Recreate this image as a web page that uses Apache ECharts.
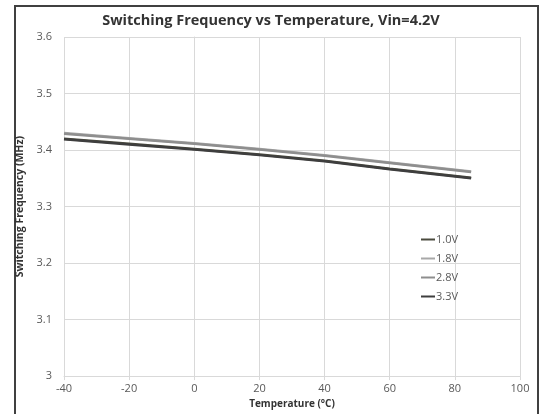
<!DOCTYPE html>
<html><head><meta charset="utf-8">
<script src="https://cdn.jsdelivr.net/npm/echarts@6/dist/echarts.min.js"></script>
<style>html,body{margin:0;padding:0;background:#fff}#c{width:542px;height:414px}</style>
</head><body><div id="c"></div>
<script>
const temps = [-40, -20, 0, 20, 40, 60, 85];
const v10 = [3.420, 3.411, 3.402, 3.392, 3.381, 3.367, 3.351];
const v18 = [3.430, 3.421, 3.412, 3.402, 3.391, 3.378, 3.362];
const v28 = [3.429, 3.420, 3.411, 3.401, 3.390, 3.377, 3.361];
const v33 = [3.419, 3.410, 3.401, 3.391, 3.380, 3.366, 3.350];
const names = ['1.0V', '1.8V', '2.8V', '3.3V'];
const colors = ['#4b4b3e', '#a8a8a8', '#8e8e8e', '#3e3e3e'];
const vals = [v10, v18, v28, v33];
const font = '"Open Sans", "Liberation Sans", sans-serif';
const chart = echarts.init(document.getElementById('c'));
chart.setOption({
  animation: false,
  backgroundColor: '#fff',
  title: {text: 'Switching Frequency vs Temperature, Vin=4.2V', left: 'center', top: 8,
    textStyle: {fontFamily: font, fontSize: 14.5, fontWeight: 'bold', color: '#333'}},
  legend: {orient: 'vertical', left: 416, top: 228, itemWidth: 14, itemHeight: 2, itemGap: 6,
    icon: 'rect', textStyle: {fontFamily: font, fontSize: 11, color: '#595959', lineHeight: 13, padding: [0,0,0,-4]},
    data: names},
  grid: {left: 64, right: 22, top: 37, bottom: 35},
  xAxis: {type: 'value', min: -40, max: 100, interval: 20,
    name: 'Temperature (°C)', nameLocation: 'middle', nameGap: 22,
    nameTextStyle: {fontFamily: font, fontSize: 10, fontWeight: 'bold', color: '#333'},
    axisLine: {lineStyle: {color: '#d9d9d9'}}, axisTick: {show: true, length: 4, lineStyle: {color: '#d9d9d9'}},
    axisLabel: {fontFamily: font, fontSize: 11, color: '#595959', margin: 7},
    splitLine: {lineStyle: {color: '#d9d9d9'}}},
  yAxis: {type: 'value', min: 3, max: 3.6, interval: 0.1,
    name: 'Switching Frequency (MHz)', nameLocation: 'middle', nameGap: 34, nameRotate: 90,
    nameTextStyle: {fontFamily: font, fontSize: 10.5, fontWeight: 'bold', color: '#333'},
    axisLine: {show: true, lineStyle: {color: '#d9d9d9'}}, axisTick: {show: true, length: 4, lineStyle: {color: '#d9d9d9'}},
    axisLabel: {fontFamily: font, fontSize: 11, color: '#595959', margin: 12},
    splitLine: {lineStyle: {color: '#d9d9d9'}}},
  graphic: [{type: 'rect', shape: {x: 15, y: 6, width: 523, height: 420},
    style: {fill: 'none', stroke: '#404040', lineWidth: 2}, silent: true}],
  series: names.map((n, i) => ({
    name: n, type: 'line', showSymbol: false, color: colors[i],
    lineStyle: {width: 2.5, color: colors[i]},
    data: temps.map((t, j) => [t, vals[i][j]])
  }))
});
</script></body></html>
